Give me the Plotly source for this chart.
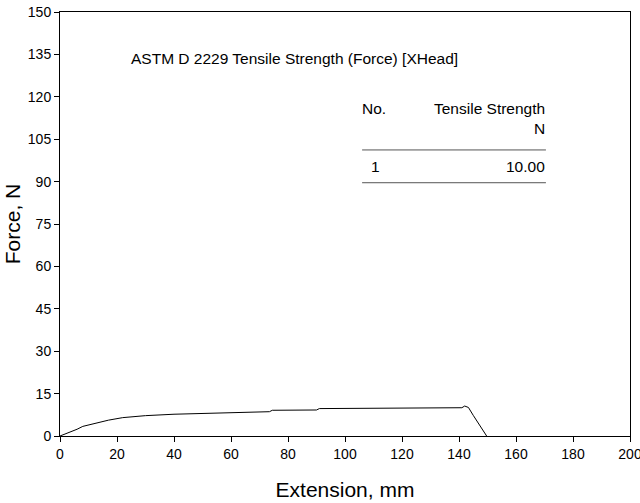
import plotly.graph_objects as go

# Curve data (Extension mm, Force N)
extension = [0, 2, 4, 6, 8, 12, 17, 22, 30, 40, 49, 55, 65, 73.5, 74.5, 85, 90, 91, 100, 110, 119, 130, 141, 142, 143.3, 145, 147, 148.5, 149.7]
force = [0, 0.8, 1.5, 2.4, 3.4, 4.4, 5.6, 6.5, 7.2, 7.7, 8.0, 8.2, 8.4, 8.6, 9.1, 9.1, 9.2, 9.7, 9.8, 9.9, 10.0, 10.0, 10.0, 10.6, 10.1, 7.3, 4.0, 1.6, 0]

x_ticks = [0, 20, 40, 60, 80, 100, 120, 140, 160, 180, 200]
y_ticks = [0, 15, 30, 45, 60, 75, 90, 105, 120, 135, 150]

table_header = ["No.", "Tensile Strength<br>N"]
table_row = ["1", "10.00"]
chart_title = "ASTM D 2229 Tensile Strength (Force) [XHead]"

font = "Liberation Sans, Arial, sans-serif"

fig = go.Figure()
fig.add_trace(go.Scatter(x=extension, y=force, mode="lines",
                         line=dict(color="black", width=1), showlegend=False,
                         hoverinfo="skip"))

axis_common = dict(showline=True, linecolor="black", linewidth=1, mirror=True,
                   showgrid=False, zeroline=False, ticks="outside", ticklen=5,
                   tickcolor="black", automargin=False,
                   tickfont=dict(size=14, color="black", family=font))

fig.update_xaxes(range=[0, 200], tickvals=x_ticks, title=dict(text="Extension, mm",
                 font=dict(size=21, color="black", family=font), standoff=21), **axis_common)
fig.update_yaxes(range=[0, 150], tickvals=y_ticks, title=dict(text="Force, N",
                 font=dict(size=21, color="black", family=font), standoff=1), **axis_common)

tf = dict(size=15.5, color="black", family=font)
fig.add_annotation(x=24.2, y=133.7, text=chart_title, showarrow=False,
                   xanchor="left", yanchor="middle", font=tf)
fig.add_annotation(x=105.3, y=115.9, text=table_header[0], showarrow=False,
                   xanchor="left", yanchor="middle", font=tf)
fig.add_annotation(x=171, y=112.5, text=table_header[1], showarrow=False,
                   xanchor="right", yanchor="middle", align="right", font=tf)
fig.add_annotation(x=108.4, y=95.2, text=table_row[0], showarrow=False,
                   xanchor="left", yanchor="middle", font=tf)
fig.add_annotation(x=170.8, y=95.2, text=table_row[1], showarrow=False,
                   xanchor="right", yanchor="middle", font=tf)
for yy in [101.2, 89.6]:
    fig.add_shape(type="line", x0=106, x1=170.5, y0=yy, y1=yy,
                  line=dict(color="#555555", width=1))

fig.update_layout(width=650, height=503, margin=dict(l=60, r=20, t=12, b=67),
                  plot_bgcolor="white", paper_bgcolor="white",
                  font=dict(family=font, color="black"))

fig.write_html("out.html", config={"displayModeBar": False},
               post_script="document.body.style.margin='0';document.body.style.overflow='hidden';")
